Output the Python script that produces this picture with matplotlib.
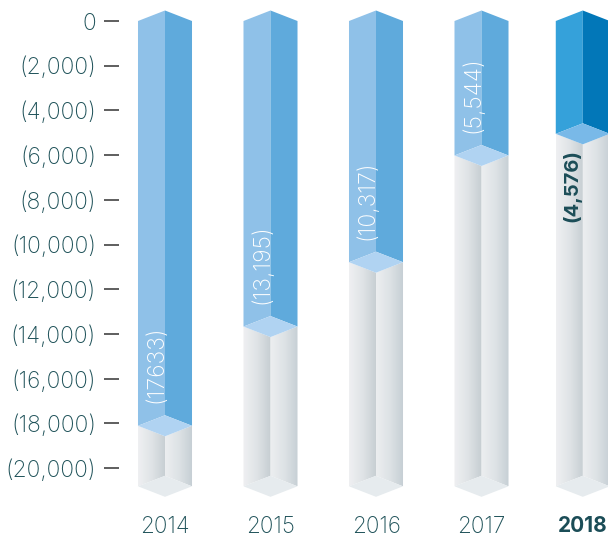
import numpy as np
import matplotlib
matplotlib.use('Agg')
import matplotlib.pyplot as plt
from matplotlib.patches import Polygon
from matplotlib.colors import LinearSegmentedColormap

years = ['2014', '2015', '2016', '2017', '2018']
values = [17633, 13195, 10317, 5544, 4576]
value_labels = ['(17633)', '(13,195)', '(10,317)', '(5,544)', '(4,576)']
tick_values = [0, -2000, -4000, -6000, -8000, -10000, -12000, -14000, -16000, -18000, -20000]
tick_labels = ['0', '(2,000)', '(4,000)', '(6,000)', '(8,000)', '(10,000)',
               '(12,000)', '(14,000)', '(16,000)', '(18,000)', '(20,000)']

TEXT = '#1f5259'
DARK = '#1b4d57'
FLOOR = -20340   # where the columns stand
DEPTH = 470      # half height of the diamond end caps
HALF = 0.256     # half width of a column

plt.rcParams['font.family'] = ['Inter', 'DejaVu Sans']

W, H = 608, 539
fig = plt.figure(figsize=(W / 100, H / 100), dpi=100)
ax = fig.add_axes([119 / W, (H - 505) / H, (W - 119) / W, 505 / H])

px_per_unit = 0.02236
ax.set_ylim(-(505 - 21) / px_per_unit, 21 / px_per_unit)
ax.set_xlim((119 - 165) / 105.5, (W - 165) / 105.5)

x_pos = [0, 1, 2, 3, 3.96]

wall_l = LinearSegmentedColormap.from_list('wall_l', ['#eff0f2', '#dfe3e6', '#c6ced2'])
wall_r = LinearSegmentedColormap.from_list('wall_r', ['#eceef0', '#dde2e5', '#c5ced4'])


def gradient_face(pts, cmap):
    xs = [p[0] for p in pts]
    ys = [p[1] for p in pts]
    im = ax.imshow(np.linspace(0, 1, 64).reshape(1, -1), cmap=cmap, aspect='auto',
                   extent=[min(xs), max(xs), min(ys), max(ys)], zorder=2)
    clip = Polygon(pts, closed=True, transform=ax.transData)
    im.set_clip_path(clip)


for i, (x, v) in enumerate(zip(x_pos, values)):
    l, r = x - HALF, x + HALF
    # the back corner of the lower cap sits on the value
    back = -v
    side = back - DEPTH
    front = back - 2 * DEPTH
    if years[i] == '2018':
        c_left, c_right, c_cap = '#35a1da', '#0277b8', '#79b9e8'
    else:
        c_left, c_right, c_cap = '#8fc1e8', '#5faadc', '#b0d3f2'

    # grey lower part
    gradient_face([(l, side), (x, front), (x, FLOOR), (l, FLOOR - DEPTH)], wall_l)
    gradient_face([(x, front), (r, side), (r, FLOOR - DEPTH), (x, FLOOR)], wall_r)
    ax.add_patch(Polygon([(l, FLOOR - DEPTH), (x, FLOOR), (r, FLOOR - DEPTH), (x, FLOOR - 2 * DEPTH)],
                         fc='#e6ebee', ec='none', zorder=2))

    # coloured upper part
    ax.add_patch(Polygon([(l, 0), (x, DEPTH), (x, back), (l, side)], fc=c_left, ec='none', zorder=3))
    ax.add_patch(Polygon([(x, DEPTH), (r, 0), (r, side), (x, back)], fc=c_right, ec='none', zorder=3))
    ax.add_patch(Polygon([(l, side), (x, back), (r, side), (x, front)], fc=c_cap, ec='none', zorder=4))

    if years[i] == '2018':
        ax.annotate(value_labels[i], xy=(x, -v), xytext=(-7.5, -18.5), textcoords='offset points',
                    rotation=90, ha='center', va='top', color=DARK, fontsize=14.5,
                    fontweight='bold', zorder=5)
    else:
        ax.annotate(value_labels[i], xy=(x, -v), xytext=(-6.2, 8.5), textcoords='offset points',
                    rotation=90, ha='center', va='bottom', color='white', fontsize=16.6,
                    fontweight='light', zorder=5)

ax.set_yticks(tick_values)
ax.set_yticklabels(tick_labels, fontsize=16.4, color=TEXT, fontweight='light')
ax.tick_params(axis='y', length=10.8, width=1.1, color='#333333', pad=5.8)

ax.set_xticks(x_pos)
ax.set_xticklabels(years, fontsize=16.2, color=TEXT, fontweight='light')
last = ax.get_xticklabels()[-1]
last.set_fontweight('bold')
last.set_fontsize(15)
last.set_color(DARK)
ax.tick_params(axis='x', length=0, pad=8)

for s in ax.spines.values():
    s.set_visible(False)

fig.savefig('out.png', dpi=100)
